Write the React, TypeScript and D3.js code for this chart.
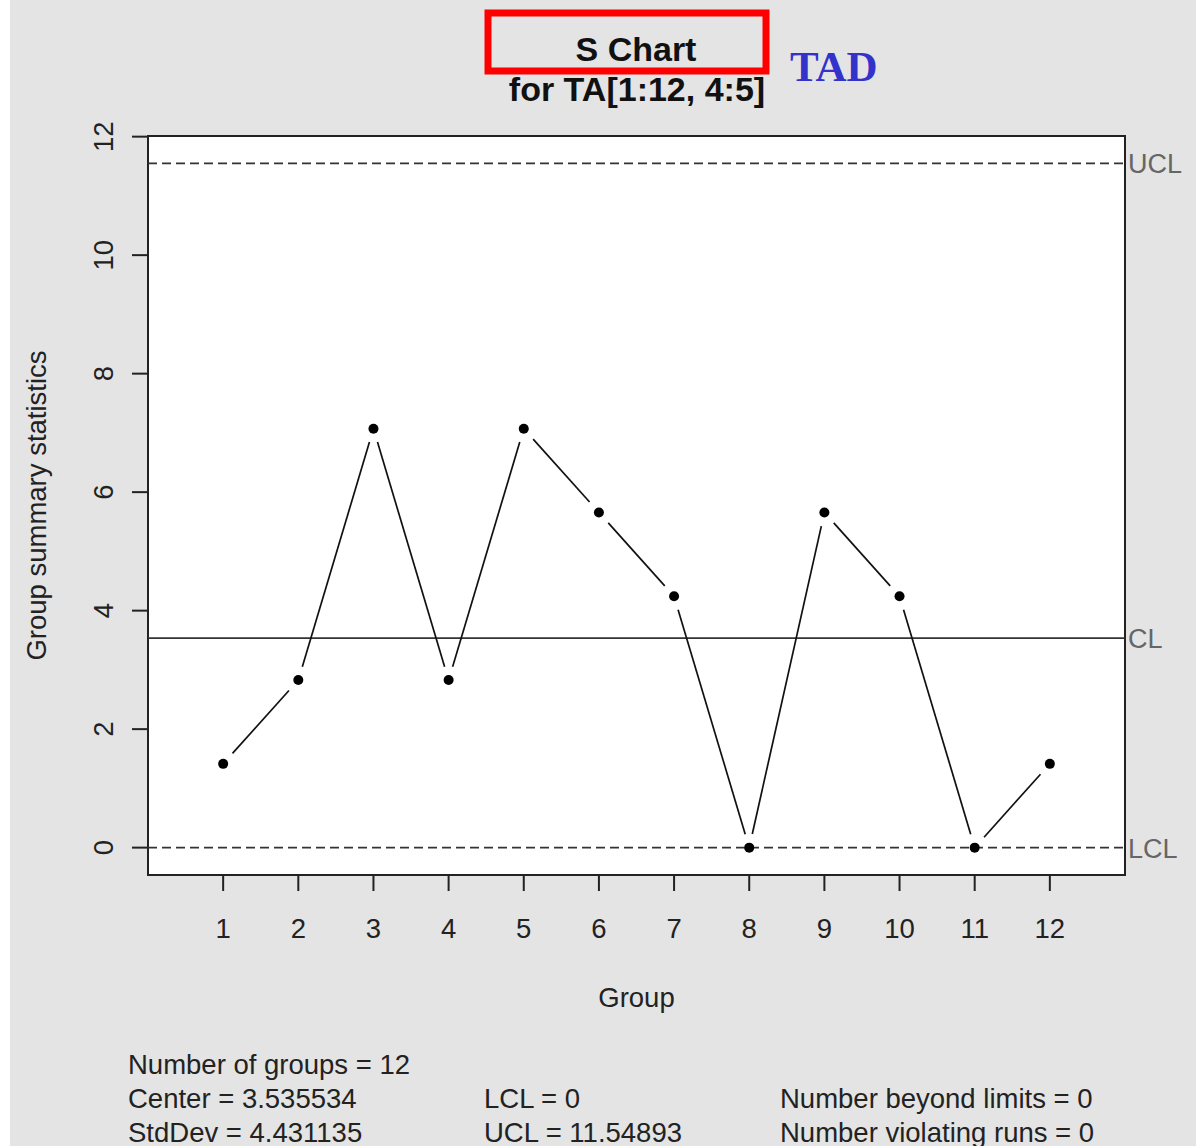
import React from 'react';
import * as d3 from 'd3';

const groups = [1, 2, 3, 4, 5, 6, 7, 8, 9, 10, 11, 12];
const stdDevs = [1.414, 2.828, 7.071, 2.828, 7.071, 5.657, 4.243, 0, 5.657, 4.243, 0, 1.414];
const yTicks = [0, 2, 4, 6, 8, 10, 12];
const limits = [
  { name: 'UCL', value: 11.54893, dashed: true },
  { name: 'CL', value: 3.535534, dashed: false },
  { name: 'LCL', value: 0, dashed: true },
];
const statsRows = [
  ['Number of groups = 12', '', ''],
  ['Center = 3.535534', 'LCL = 0', 'Number beyond limits = 0'],
  ['StdDev = 4.431135', 'UCL = 11.54893', 'Number violating runs = 0'],
];
// ————————————————————

const W = 1196;
const H = 1146;
const plot = { left: 148, top: 136, right: 1125, bottom: 875 };
const font = 'Arial, "Liberation Sans", sans-serif';

const App = () => {
  const x = d3.scaleLinear().domain([0, 13]).range([plot.left, plot.right]);
  const y = d3.scaleLinear().domain([-0.462, 12.011]).range([plot.bottom, plot.top]);

  const pts = groups.map((g, i) => ({ px: x(g), py: y(stdDevs[i]) }));
  // type = "b": segments stop short of the points
  const gap = 14;
  const segs = pts.slice(1).map((p, i) => {
    const a = pts[i];
    const dx = p.px - a.px, dy = p.py - a.py;
    const len = Math.hypot(dx, dy);
    const ux = dx / len, uy = dy / len;
    return { x1: a.px + ux * gap, y1: a.py + uy * gap, x2: p.px - ux * gap, y2: p.py - uy * gap };
  });

  const colX = [128, 484, 780];
  const rowY = [1074, 1108, 1142];

  return (
    <svg width={W} height={H} style={{ position: 'absolute', left: 0, top: 0, display: 'block' }}
      fontFamily={font}>
      <rect x={0} y={0} width={W} height={H} fill="#fff" />
      <rect x={10} y={0} width={W - 10} height={H} fill="#e4e4e4" />

      {/* titles */}
      <text x={636} y={61} textAnchor="middle" fontSize={34} fontWeight="bold" fill="#111">S Chart</text>
      <text x={637} y={101} textAnchor="middle" fontSize={34} fontWeight="bold" fill="#111">for TA[1:12, 4:5]</text>
      <rect x={488} y={13} width={278} height={58} fill="none" stroke="#ff0000" strokeWidth={7} />
      <text x={790} y={81} fontSize={43} fontWeight="bold" fill="#3333cc"
        fontFamily='"Liberation Serif", "Times New Roman", serif'>TAD</text>

      {/* plot area */}
      <rect x={plot.left} y={plot.top} width={plot.right - plot.left} height={plot.bottom - plot.top}
        fill="#fff" stroke="#222" strokeWidth={2} />

      {limits.map(l => (
        <g key={l.name}>
          <line x1={plot.left} x2={plot.right} y1={y(l.value)} y2={y(l.value)}
            stroke="#333" strokeWidth={1.6} strokeDasharray={l.dashed ? '9,5' : undefined} />
          <text x={plot.right + 3} y={y(l.value) + 10} fontSize={27} fill="#666">{l.name}</text>
        </g>
      ))}

      {segs.map((s, i) => (
        <line key={i} x1={s.x1} y1={s.y1} x2={s.x2} y2={s.y2} stroke="#111" strokeWidth={1.7} />
      ))}
      {pts.map((p, i) => (
        <circle key={i} cx={p.px} cy={p.py} r={5} fill="#000" />
      ))}

      {/* y axis */}
      {yTicks.map(t => (
        <g key={t}>
          <line x1={plot.left - 16} x2={plot.left} y1={y(t)} y2={y(t)} stroke="#222" strokeWidth={2} />
          <text transform={`translate(113,${y(t)}) rotate(-90)`} textAnchor="middle" fontSize={27.5} fill="#222">{t}</text>
        </g>
      ))}
      <text transform={`translate(46,${(plot.top + plot.bottom) / 2}) rotate(-90)`} textAnchor="middle"
        fontSize={27.5} fill="#222">Group summary statistics</text>

      {/* x axis */}
      {groups.map(g => (
        <g key={g}>
          <line x1={x(g)} x2={x(g)} y1={plot.bottom} y2={plot.bottom + 16} stroke="#222" strokeWidth={2} />
          <text x={x(g)} y={938} textAnchor="middle" fontSize={27.5} fill="#222">{g}</text>
        </g>
      ))}
      <text x={(plot.left + plot.right) / 2} y={1007} textAnchor="middle" fontSize={27.5} fill="#222">Group</text>

      {/* summary statistics */}
      {statsRows.map((row, r) => row.map((t, c) => t && (
        <text key={`${r}-${c}`} x={colX[c]} y={rowY[r]} fontSize={27.5} fill="#222">{t}</text>
      )))}
    </svg>
  );
};

export default App;
